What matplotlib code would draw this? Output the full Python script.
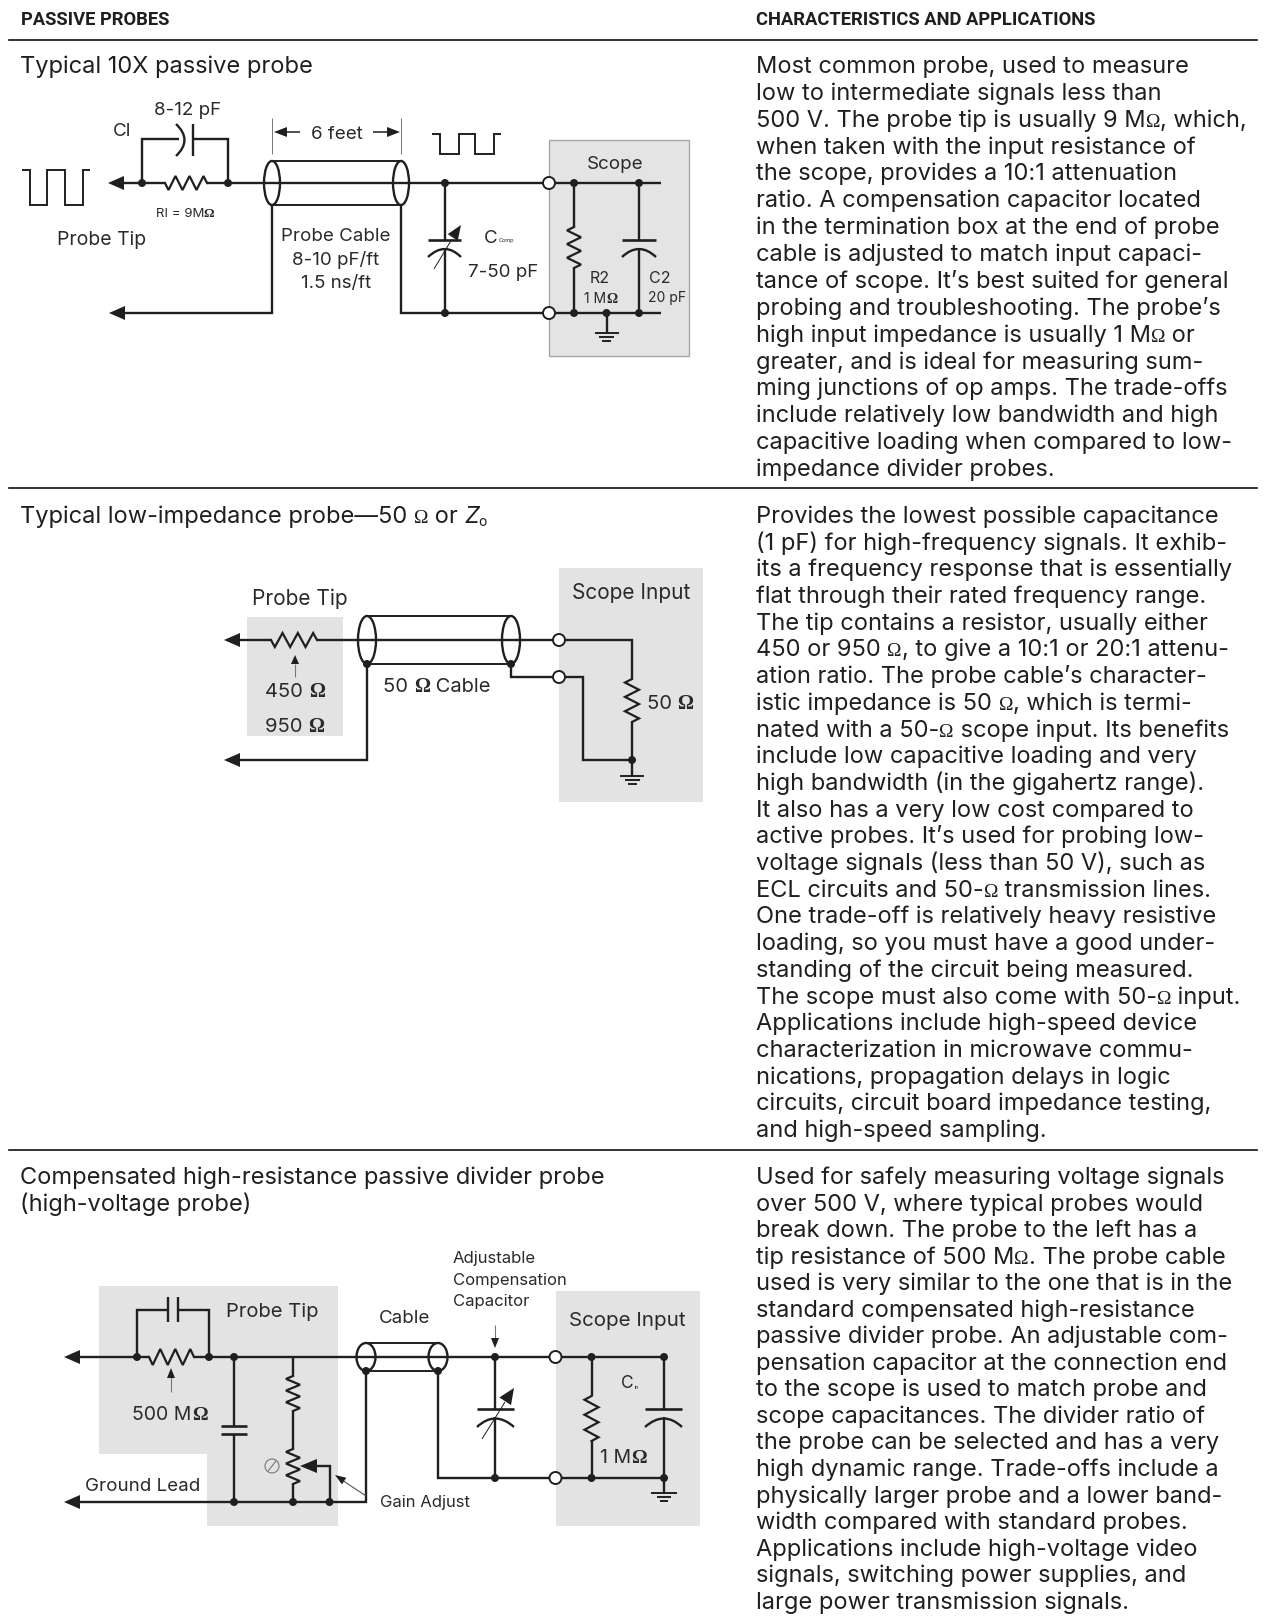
import numpy as np
import matplotlib
matplotlib.use("Agg")
import matplotlib.pyplot as plt
from matplotlib.patches import Ellipse, Circle, Polygon, PathPatch, Rectangle
from matplotlib.path import Path

# Table text
header_left = "PASSIVE PROBES"
header_right = "CHARACTERISTICS AND APPLICATIONS"

title_10x = ["Typical 10X passive probe"]
title_low_z = "Typical low-impedance probe—50 Ω or "
title_divider = ["Compensated high-resistance passive divider probe", "(high-voltage probe)"]

text_10x = [
    "Most common probe, used to measure",
    "low to intermediate signals less than",
    "500 V. The probe tip is usually 9 MΩ, which,",
    "when taken with the input resistance of",
    "the scope, provides a 10:1 attenuation",
    "ratio. A compensation capacitor located",
    "in the termination box at the end of probe",
    "cable is adjusted to match input capaci-",
    "tance of scope. It’s best suited for general",
    "probing and troubleshooting. The probe’s",
    "high input impedance is usually 1 MΩ or",
    "greater, and is ideal for measuring sum-",
    "ming junctions of op amps. The trade-offs",
    "include relatively low bandwidth and high",
    "capacitive loading when compared to low-",
    "impedance divider probes.",
]
text_low_z = [
    "Provides the lowest possible capacitance",
    "(1 pF) for high-frequency signals. It exhib-",
    "its a frequency response that is essentially",
    "flat through their rated frequency range.",
    "The tip contains a resistor, usually either",
    "450 or 950 Ω, to give a 10:1 or 20:1 attenu-",
    "ation ratio. The probe cable’s character-",
    "istic impedance is 50 Ω, which is termi-",
    "nated with a 50-Ω scope input. Its benefits",
    "include low capacitive loading and very",
    "high bandwidth (in the gigahertz range).",
    "It also has a very low cost compared to",
    "active probes. It’s used for probing low-",
    "voltage signals (less than 50 V), such as",
    "ECL circuits and 50-Ω transmission lines.",
    "One trade-off is relatively heavy resistive",
    "loading, so you must have a good under-",
    "standing of the circuit being measured.",
    "The scope must also come with 50-Ω input.",
    "Applications include high-speed device",
    "characterization in microwave commu-",
    "nications, propagation delays in logic",
    "circuits, circuit board impedance testing,",
    "and high-speed sampling.",
]
text_divider = [
    "Used for safely measuring voltage signals",
    "over 500 V, where typical probes would",
    "break down. The probe to the left has a",
    "tip resistance of 500 MΩ. The probe cable",
    "used is very similar to the one that is in the",
    "standard compensated high-resistance",
    "passive divider probe. An adjustable com-",
    "pensation capacitor at the connection end",
    "to the scope is used to match probe and",
    "scope capacitances. The divider ratio of",
    "the probe can be selected and has a very",
    "high dynamic range. Trade-offs include a",
    "physically larger probe and a lower band-",
    "width compared with standard probes.",
    "Applications include high-voltage video",
    "signals, switching power supplies, and",
    "large power transmission signals.",
]

INK = "#1f1f1f"
BOX = "#e3e3e3"
BODY_FONT = ["Inter", "DejaVu Sans"]
HEAD_FONT = ["Roboto", "Liberation Sans"]
OMEGA_FONT = ["Liberation Serif", "DejaVu Serif"]
BODY_SIZE = 17

fig = plt.figure(figsize=(12.68, 16.24), dpi=100)
ax = fig.add_axes([0, 0, 1, 1])
ax.set_xlim(0, 1268)
ax.set_ylim(1624, 0)
ax.axis("off")


def runs(x, y, line, size=BODY_SIZE, color=INK, center=False, omega_scale=0.82, omega_weight="normal"):
    # text split around the omega, which comes from a serif face as in the print
    placed = []
    parts = line.split("Ω")
    for i, part in enumerate(parts):
        if part:
            placed.append(ax.text(0, y, part, fontsize=size, ha="left", va="baseline", color=color,
                                  family=BODY_FONT))
        if i < len(parts) - 1:
            placed.append(ax.text(0, y, "Ω", fontsize=size * omega_scale, ha="left", va="baseline", color=color,
                                  family=OMEGA_FONT, fontweight=omega_weight))
    widths = [t.get_window_extent().width for t in placed]
    left = x - sum(widths) / 2 if center else x
    for t, w in zip(placed, widths):
        t.set_x(left)
        left += w
    return left


def label(x, y, s, size=13, ha="center", color="#2a2a2a"):
    # diagram labels, y is the optical middle of the capitals
    base = y + size * 1.389 * 0.30
    if "Ω" in s:
        return runs(x, base, s, size, color, center=True, omega_scale=1.0, omega_weight="bold")
    return ax.text(x, base, s, fontsize=size, ha=ha, va="baseline", color=color, family=BODY_FONT)


def block(x, y, lines, step=26.8, size=BODY_SIZE):
    for i, line in enumerate(lines):
        runs(x, y + i * step, line, size)


def wire(*pts, lw=1.7, color=INK, z=3):
    xs, ys = zip(*pts)
    ax.plot(xs, ys, color=color, lw=lw, solid_capstyle="butt", solid_joinstyle="miter", zorder=z)


def node(x, y, r=4):
    ax.add_patch(Circle((x, y), r, fc=INK, ec="none", zorder=5))


def terminal(x, y, r=6):
    ax.add_patch(Circle((x, y), r, fc="white", ec=INK, lw=1.4, zorder=5))


def head(x, y, dx, dy, length=16, half=7):
    # filled arrowhead with its tip at x,y pointing along dx,dy
    bx, by = x - dx * length, y - dy * length
    ax.add_patch(Polygon([(x, y), (bx - dy * half, by + dx * half), (bx + dy * half, by - dx * half)],
                         fc=INK, ec="none", zorder=5))


def resistor(x0, y0, x1, y1, teeth=3, amp=7):
    # zigzag from one end to the other
    n = teeth * 2
    ts = [0] + [(2 * i + 1) / (2 * n) for i in range(n)] + [1]
    px, py = [], []
    ux, uy = x1 - x0, y1 - y0
    norm = np.hypot(ux, uy)
    for i, t in enumerate(ts):
        off = 0 if i in (0, len(ts) - 1) else (amp if i % 2 else -amp)
        px.append(x0 + ux * t - uy / norm * off)
        py.append(y0 + uy * t + ux / norm * off)
    ax.plot(px, py, color=INK, lw=1.6, solid_joinstyle="miter", zorder=4)


def bow(x0, y0, xm, ym, x1, y1):
    # curved capacitor plate
    ax.add_patch(PathPatch(Path([(x0, y0), (xm, ym), (x1, y1)], [Path.MOVETO, Path.CURVE3, Path.CURVE3]),
                           fc="none", ec=INK, lw=1.7, zorder=4))


def cable(x0, x1, yc, half_h, half_w, lw=1.7):
    wire((x0, yc - half_h), (x1, yc - half_h), lw=1.4)
    wire((x0, yc + half_h), (x1, yc + half_h), lw=1.4)
    for x in (x0, x1):
        ax.add_patch(Ellipse((x, yc), half_w * 2, half_h * 2, fc="none", ec=INK, lw=lw, zorder=4))


def ground(x, y, widths=(24, 15, 9), gap=4):
    for i, w in enumerate(widths):
        wire((x - w / 2, y + i * gap), (x + w / 2, y + i * gap), lw=1.4)


def pulses(xs, y_hi, y_lo):
    pts = [(xs[0], y_hi)]
    levels = [y_hi, y_lo]
    for i, x in enumerate(xs[1:-1]):
        pts.append((x, levels[i % 2]))
        pts.append((x, levels[(i + 1) % 2]))
    pts.append((xs[-1], y_hi))
    wire(*pts, lw=1.4)


# Header and rules
ax.text(21, 25, header_left, fontsize=13.2, fontweight="bold", ha="left", va="baseline", color=INK, family=HEAD_FONT)
ax.text(756, 25, header_right, fontsize=13.2, fontweight="bold", ha="left", va="baseline", color=INK, family=HEAD_FONT)
for y in (41, 489, 1151):
    ax.plot([9, 1257], [y, y], color="#111111", lw=1.2, zorder=2)

# Table text
block(20, 73, title_10x)
block(756, 73, text_10x, step=26.87)
right = runs(20, 523, title_low_z)
ax.text(right, 523, "Z", fontsize=BODY_SIZE, style="italic", ha="left", va="baseline", color=INK, family=BODY_FONT)
ax.text(right + 14, 526, "o", fontsize=10, ha="left", va="baseline", color=INK, family=BODY_FONT)
block(756, 523, text_low_z, step=26.7)
block(20, 1184, title_divider, step=27.5)
block(756, 1184, text_divider, step=26.55)

# 10X probe
ax.add_patch(Rectangle((549, 141), 140, 216, fc="#e4e4e4", ec="#a8a8a8", lw=1, zorder=1))
pulses([22, 30, 47, 65, 83, 90], 171, 206)
pulses([432, 440, 459, 475, 494, 501], 135, 155)
head(108, 184, -1, 0)
wire((118, 184), (142, 184), (165, 184))
resistor(165, 184, 207, 184)
wire((207, 184), (549, 184))
wire((142, 184), (142, 140), (179, 140))
wire((193, 140), (228, 140), (228, 184))
wire((193, 125), (193, 157))
bow(176, 125, 193, 141, 176, 157)
node(142, 184)
node(228, 184)
label(188, 109, "8-12 pF", 13.5)
label(122, 130, "CI", 13.5)
label(185, 213, "RI = 9MΩ", 9.5)
label(102, 239, "Probe Tip", 14)
cable(272, 401, 184, 22, 8)
wire((272, 119), (272, 155), lw=0.7, color="#777777")
wire((401, 119), (401, 155), lw=0.7, color="#777777")
label(337, 133, "6 feet", 13.5)
head(274, 133, -1, 0, 13, 5)
wire((287, 133), (300, 133), lw=1.1)
head(400, 133, 1, 0, 13, 5)
wire((373, 133), (387, 133), lw=1.1)
label(336, 235, "Probe Cable", 13.5)
label(336, 259, "8-10 pF/ft", 13.5)
label(336, 282, "1.5 ns/ft", 13.5)
wire((272, 206), (272, 314), (120, 314))
head(109, 314, -1, 0)
wire((401, 206), (401, 314), (549, 314))
wire((445, 184), (445, 241))
wire((428, 241), (461, 241), lw=1.9)
bow(428, 258, 445, 242, 461, 258)
wire((445, 250), (445, 314))
wire((434, 270), (452, 240), lw=0.7)
head(461, 226, 0.55, -0.83, 15, 6)
node(445, 184)
node(445, 314)
label(491, 237, "C", 13.5)
label(506, 240, "Comp", 4)
label(503, 271, "7-50 pF", 13.5)
wire((555, 184), (661, 184))
wire((555, 314), (661, 314))
terminal(549, 184)
terminal(549, 314)
label(615, 163, "Scope", 13.5)
wire((574, 184), (574, 228))
resistor(574, 228, 574, 269)
wire((574, 269), (574, 314))
wire((639, 184), (639, 241))
wire((622, 241), (656, 241), lw=1.9)
bow(622, 258, 639, 242, 656, 258)
wire((639, 250), (639, 314))
for x in (574, 639):
    node(x, 184)
    node(x, 314)
node(606.5, 314)
wire((606.5, 314), (606.5, 334))
ground(606.5, 334)
label(600, 278, "R2", 11.5)
label(601, 299, "1 MΩ", 10)
label(660, 278, "C2", 11.5)
label(667, 298, "20 pF", 10)

# Low impedance probe
ax.add_patch(Rectangle((247, 618), 96, 119, fc=BOX, ec="none", zorder=1))
ax.add_patch(Rectangle((559, 569), 144, 234, fc=BOX, ec="none", zorder=1))
head(224, 641, -1, 0)
wire((236, 641), (271, 641))
resistor(271, 641, 317, 641)
wire((317, 641), (632, 641), (632, 680))
resistor(632, 680, 632, 723)
wire((632, 723), (632, 761))
cable(367, 511, 641, 24, 9)
node(367, 665)
node(511, 665)
wire((367, 665), (367, 761), (236, 761))
head(224, 761, -1, 0)
wire((511, 665), (511, 678), (559, 678))
wire((559, 678), (583, 678), (583, 761), (632, 761))
terminal(559, 641)
terminal(559, 678)
node(632, 761)
wire((632, 761), (632, 777))
ground(632, 777)
wire((295, 678), (295, 665), lw=0.8, color="#777777")
head(295, 656, 0, -1, 9, 4)
label(300, 599, "Probe Tip", 15)
label(631, 593, "Scope Input", 15)
label(295, 691, "450 Ω", 14.5)
label(295, 726, "950 Ω", 14.5)
label(437, 686, "50 Ω Cable", 14.5)
label(670, 703, "50 Ω", 14.5)

# Divider probe
ax.add_patch(Polygon([(99, 1287), (338, 1287), (338, 1527), (207, 1527), (207, 1455), (99, 1455)],
                     fc=BOX, ec="none", zorder=1))
ax.add_patch(Rectangle((556, 1292), 144, 235, fc=BOX, ec="none", zorder=1))
head(64, 1358, -1, 0)
wire((76, 1358), (149, 1358))
resistor(149, 1358, 194, 1358, amp=8)
wire((194, 1358), (664, 1358))
wire((137, 1358), (137, 1311), (167.5, 1311))
wire((178, 1311), (209, 1311), (209, 1358))
wire((167.5, 1298), (167.5, 1323))
wire((178, 1298), (178, 1323))
node(137, 1358)
node(209, 1358)
node(234, 1358)
wire((234, 1358), (234, 1427))
wire((221, 1427), (247, 1427), lw=1.9)
wire((221, 1435), (247, 1435), lw=1.9)
wire((234, 1435), (234, 1503))
head(64, 1503, -1, 0)
wire((76, 1503), (366, 1503), (366, 1371))
node(234, 1503)
node(293, 1503)
node(329.5, 1503)
wire((293, 1358), (293, 1377))
resistor(293, 1377, 293, 1412)
wire((293, 1412), (293, 1450))
resistor(293, 1450, 293, 1485)
wire((293, 1485), (293, 1503))
head(300, 1467, -1, 0, 17, 7)
wire((315, 1467), (329.5, 1467), (329.5, 1503))
ax.add_patch(Circle((272, 1467), 7, fc="none", ec="#777777", lw=0.8, zorder=4))
wire((268, 1472), (276, 1462), lw=0.8, color="#777777")
wire((366, 1497), (342, 1481), lw=0.8, color="#555555")
head(335, 1476, -0.83, -0.55, 11, 4)
label(425, 1502, "Gain Adjust", 12)
label(143, 1485, "Ground Lead", 13.5)
label(170, 1414, "500 MΩ", 14)
wire((171, 1393), (171, 1378), lw=0.8, color="#777777")
head(171, 1369, 0, -1, 10, 4)
label(272, 1311, "Probe Tip", 14.5)
label(405, 1317, "Cable", 13.5)
for i, s in enumerate(["Adjustable", "Compensation", "Capacitor"]):
    label(453, 1258 + i * 21.5, s, 12, ha="left")
cable(366, 438, 1358, 14, 9.5)
node(366, 1372)
node(438, 1372)
wire((438, 1372), (438, 1479), (550, 1479))
wire((495, 1326), (495, 1340), lw=0.8, color="#777777")
head(495, 1349, 0, 1, 10, 4)
node(495, 1358)
node(495, 1479)
wire((495, 1358), (495, 1410))
wire((477, 1410), (514, 1410), lw=1.9)
bow(477, 1428, 495, 1411, 514, 1428)
wire((495, 1418), (495, 1479))
wire((482, 1440), (505, 1403), lw=0.7)
head(514, 1389, 0.55, -0.83, 16, 7)
wire((561, 1479), (664, 1479))
terminal(555.5, 1358)
terminal(555.5, 1479)
node(591.5, 1358)
node(664, 1358)
node(591.5, 1479)
node(664, 1479)
wire((591.5, 1358), (591.5, 1397))
resistor(591.5, 1397, 591.5, 1442)
wire((591.5, 1442), (591.5, 1479))
wire((664, 1358), (664, 1410))
wire((645, 1410), (682, 1410), lw=1.9)
bow(645, 1428, 664, 1411, 682, 1428)
wire((664, 1418), (664, 1479))
wire((664, 1479), (664, 1494))
ground(664, 1494, (26, 14, 8))
label(627, 1320, "Scope Input", 14.8)
label(627, 1383, "C", 12.5)
label(637, 1387, "in", 4)
label(623.5, 1457, "1 MΩ", 14)

fig.savefig("out.png", dpi=100, facecolor="white")
